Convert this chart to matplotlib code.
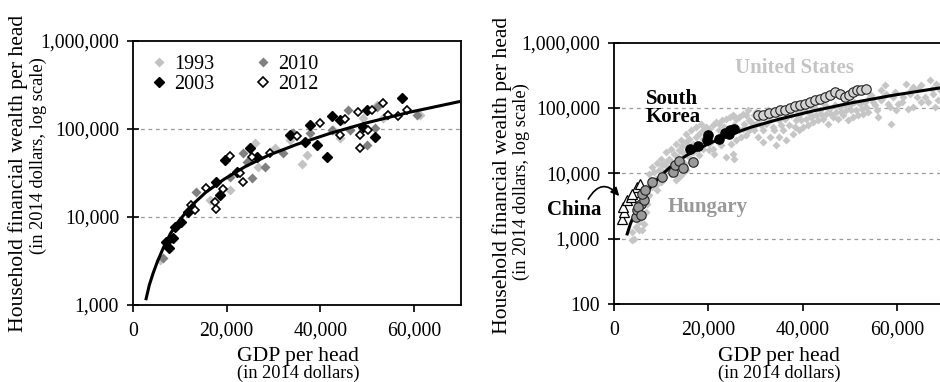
import matplotlib
matplotlib.use("Agg")
import matplotlib.pyplot as plt
from matplotlib.ticker import FixedLocator, FuncFormatter, NullLocator

plt.rcParams['font.family'] = ['Liberation Serif', 'DejaVu Serif']

# ---------------- data ----------------
# fitted trend line
fit_gdp = [2800, 3500, 4300, 5200, 6500, 8000, 10000, 12500, 15500, 19500,
           24000, 29000, 35000, 42000, 50000, 59000, 69500]
fit_wealth = [1180, 1700, 2300, 3100, 4500, 6500, 9300, 13500, 19000, 27000,
              37500, 50500, 67000, 89000, 118000, 155000, 204000]

# left panel: countries in four years
gdp_1993 = [5700, 26000, 30280, 26700, 20660, 35980, 37050, 42740, 44880, 49150,
            52010, 53430, 61270, 16390, 44170, 33500]
wealth_1993 = [3240, 68800, 60400, 37400, 20300, 39500, 50700, 97600, 126000, 132000,
               187000, 132000, 144000, 15600, 78000, 75000]

gdp_2003 = [7700, 7130, 8550, 8900, 10340, 11750, 17800, 18500, 19600, 24900,
            26400, 22100, 33500, 37760, 39200, 36700, 41300, 42400, 44170, 49900,
            51650, 49150, 57360]
wealth_2003 = [4400, 5240, 5730, 7760, 8850, 11500, 25200, 17800, 44400, 60400,
               48400, 32700, 85800, 111000, 65800, 71800, 48400, 140600, 126000, 164000,
               81600, 106000, 223000]

gdp_2010 = [6410, 13550, 23500, 24230, 25300, 28150, 32060, 34200, 37760, 42400,
            45950, 52010, 49880, 51650, 60560, 54150, 46310, 20660]
wealth_2010 = [3390, 19400, 52700, 42500, 27500, 37400, 52700, 89700, 89700, 97600,
               164000, 178000, 65800, 102000, 144000, 144000, 97600, 28700]

gdp_2012 = [13180, 12470, 15680, 17460, 17670, 19230, 20660, 22800, 23500, 25300,
            29210, 34900, 39900, 45240, 48080, 50940, 53420, 44170, 48440, 50220,
            48440, 54490, 56630, 58420]
wealth_2012 = [12000, 13700, 21200, 14900, 12200, 20600, 49300, 31400, 25200, 48400,
               52700, 83200, 118000, 129000, 157000, 164000, 199000, 85800, 85800, 97600,
               60400, 144000, 140600, 164000]

# right panel: all countries, all years
gdp_all = [4250, 3900, 4600, 5300, 4750, 6000, 6700, 5700, 7100, 6400,
           7400, 8150, 7100, 7800, 8860, 8500, 9570, 9900, 9200, 10600,
           10280, 11000, 11700, 12100, 13100, 13800, 14500, 15200, 12800, 13800,
           14500, 15200, 16000, 16700, 17400, 16000, 17000, 18100, 17400, 18800,
           14800, 13500, 18100, 18800, 19500, 20200, 20900, 21600, 22300, 23000,
           23800, 24500, 25200, 25900, 26600, 27300, 28000, 20200, 20900, 21600,
           22700, 23800, 25200, 24800, 25900, 27000, 28000, 28700, 27300, 29400,
           23400, 22300, 26200, 29100, 30100, 30800, 31600, 32300, 33000, 33700,
           34400, 35100, 35800, 36500, 37200, 37900, 38600, 39300, 40100, 40800,
           41500, 42200, 42900, 43600, 44300, 45000, 45700, 46400, 47100, 47900,
           48600, 49300, 50000, 50700, 51400, 52100, 52800, 53500, 39300, 36500,
           33700, 30100, 54900, 55700, 56700, 57400, 58100, 58800, 59200, 59900,
           61000, 62000, 62700, 63500, 64500, 65200, 66000, 67000, 67700, 68100,
           68800, 69100, 57100, 54200, 63500, 28400, 29800, 32600, 25500, 31600,
           35100,
           7400, 8150, 9200, 9900, 11000, 12100, 13100, 14200, 15200, 16300,
           17400, 18400, 19500, 20200, 21300, 22300, 23400, 24500, 25500, 26600,
           27600, 28700, 29800, 30500, 31200, 31900, 33000, 34000, 34700, 35500,
           36200, 37600, 38300, 39000, 39700, 40400, 41100, 41800, 42500, 43200,
           44000, 44700, 45400, 46100, 46800, 47500, 48200, 48900, 49600, 50300,
           51000, 51800, 52500, 53200, 53900, 54600, 55300, 56000, 56700, 57800,
           58500, 59600, 60300, 61300, 62400, 63100, 64200, 65200, 66600, 67400,
           68400, 8860, 10300, 11300, 12400, 13500, 14500, 15600, 16700, 17700,
           18800, 13100, 5300, 6400, 6000, 3900]
wealth_all = [1000, 1270, 1520, 1800, 2290, 2150, 2560, 3060, 3440, 4100,
              4600, 6200, 6200, 7800, 8300, 10500, 11100, 7400, 5500, 8800,
              13300, 14900, 16800, 9900, 11100, 8800, 9900, 11100, 20000, 22400,
              26500, 30000, 33900, 28400, 35900, 17700, 15800, 18800, 22400, 23700,
              14100, 14900, 40300, 45300, 50900, 48000, 53900, 60700, 57300, 64400,
              68300, 72400, 76700, 68300, 72400, 81400, 76700, 28400, 23700, 31900,
              26800, 17700, 19900, 28400, 31900, 35900, 38000, 45300, 48000, 50900,
              40300, 35900, 48000, 60700, 57300, 68300, 45300, 57300, 35900, 50900,
              26800, 64400, 45300, 72400, 53900, 40300, 64400, 76700, 50900, 68300,
              81400, 60700, 76700, 91600, 68300, 81400, 97000, 72400, 86300, 103000,
              76700, 91600, 109000, 72400, 91600, 115800, 81400, 103000, 45300, 31900,
              81400, 86300, 122000, 91600, 185000, 220000, 115800, 57300, 146000, 91600,
              122000, 234000, 164500, 103000, 195000, 122000, 146000, 263000, 164500, 103000,
              130000, 185000, 146000, 146000, 208000, 91600, 76700, 91600, 16800, 30000,
              35900,
              9900, 12500, 14100, 16800, 21000, 23700, 28400, 31900, 40300, 45300,
              50900, 57300, 35900, 22400, 19900, 45300, 50900, 45300, 53900, 45300,
              57300, 64400, 45300, 35900, 53900, 72400, 64400, 45300, 76700, 53900,
              68300, 76700, 50900, 86300, 64400, 91600, 53900, 72400, 103000, 64400,
              81400, 109000, 57300, 81400, 109000, 68300, 86300, 115800, 64400, 91600,
              122000, 76700, 97000, 122000, 86300, 155000, 109000, 72400, 130000, 164500,
              103000, 175000, 115800, 146000, 97000, 185000, 146000, 220000, 122000, 195000,
              234000, 6600, 10500, 12500, 14100, 17700, 21000, 23700, 21000, 28400,
              33900, 7800, 1350, 1700, 1350, 950]

# China
gdp_china = [1770, 2130, 1920, 2840, 3690, 4470, 4960, 5530, 3900]
wealth_china = [2030, 2570, 3060, 3870, 4360, 5190, 6170, 6930, 4900]

# Hungary
gdp_hungary = [4750, 4960, 5680, 6380, 6030, 6600, 8150, 10280, 12550, 12980,
               13830, 14540, 16810, 5170, 5680]
wealth_hungary = [2150, 2720, 3440, 3870, 4900, 5500, 7360, 8780, 10480, 13300,
                  15460, 12200, 14830, 3060, 2280]

# South Korea
gdp_korea = [16100, 17730, 19640, 19860, 22200, 23620, 24620, 25540, 24320]
wealth_korea = [23800, 25800, 31900, 38000, 33900, 41200, 45300, 47500, 40400]

# United States
gdp_us = [30500, 31560, 32980, 34050, 35110, 36180, 37240, 38300, 39370, 40430,
          41500, 42560, 43620, 44690, 45750, 46820, 48030, 48940, 49860, 50710,
          51560, 52490, 53350]
wealth_us = [76800, 76800, 83300, 86300, 91600, 93800, 100700, 105000, 109000, 113000,
             123000, 130000, 138000, 146000, 155000, 174000, 161000, 146000, 155000, 174000,
             185000, 190000, 196000]

left_yticks = [1000, 10000, 100000, 1000000]
right_yticks = [100, 1000, 10000, 100000, 1000000]
xticks = [0, 20000, 40000, 60000]

# ---------------- figure ----------------
W, H = 940, 382
fig = plt.figure(figsize=(W / 100, H / 100), dpi=100)

def box(l, t, r, b):
    return [l / W, 1 - b / H, (r - l) / W, (b - t) / H]

axL = fig.add_axes(box(133, 41, 461, 305))
axR = fig.add_axes(box(614, 42.5, 940, 304))

fmt = FuncFormatter(lambda v, p: f"{int(round(v)):,}")
tick_fs = 14.2

for ax, yt, ylim, xmax in [(axL, left_yticks, (1000, 1000000), 70000),
                           (axR, right_yticks, (100, 1000000), 69150)]:
    ax.set_yscale('log')
    ax.set_ylim(*ylim)
    ax.set_xlim(0, xmax)
    ax.yaxis.set_major_locator(FixedLocator(yt))
    ax.yaxis.set_minor_locator(NullLocator())
    ax.yaxis.set_major_formatter(fmt)
    ax.xaxis.set_major_locator(FixedLocator(xticks))
    ax.xaxis.set_major_formatter(fmt)
    ax.tick_params(axis='y', direction='inout', length=8, width=1.2, pad=6,
                   labelsize=tick_fs)
    ax.tick_params(axis='x', direction='out', length=5, width=1.2, pad=7,
                   labelsize=tick_fs)
    for s in ax.spines.values():
        s.set_linewidth(1.3)
    for y in yt[1:-1]:
        ax.axhline(y, color='#9a9a9a', lw=0.9, ls=(0, (3, 3)), zorder=0.5)

axR.spines['right'].set_visible(False)

# ---- left panel ----
ms = 4.6
axL.plot(gdp_1993, wealth_1993, 'D', ms=ms, color='#c3c3c3', mec='none', label='1993', zorder=2)
axL.plot(gdp_2010, wealth_2010, 'D', ms=ms, color='#808080', mec='none', label='2010', zorder=2)
axL.plot(gdp_2003, wealth_2003, 'D', ms=ms, color='black', mec='black', label='2003', zorder=3)
axL.plot(gdp_2012, wealth_2012, 'D', ms=ms - 0.4, mfc='white', mec='black', mew=1.2,
         ls='none', label='2012', zorder=3)
axL.plot(fit_gdp, fit_wealth, color='black', lw=2.2, zorder=4)

h, l = axL.get_legend_handles_labels()
order = [l.index('1993'), l.index('2003'), l.index('2010'), l.index('2012')]
axL.legend([h[i] for i in order], [l[i] for i in order], ncol=2, loc='upper left',
           bbox_to_anchor=(0.0, 1.0), frameon=False, fontsize=14.5,
           handletextpad=0.15, columnspacing=1.8, labelspacing=0.05,
           handlelength=1.2, markerscale=1.15, borderaxespad=0.3)

# ---- right panel ----
axR.plot(gdp_all, wealth_all, 'D', ms=4.1, color='#c6c6c6', mec='none', ls='none', zorder=1)
axR.plot(fit_gdp, fit_wealth, color='black', lw=2.2, zorder=3)
axR.plot(gdp_china, wealth_china, '^', ms=6.5, mfc='white', mec='black', mew=0.9,
         ls='none', zorder=4)
axR.plot(gdp_hungary, wealth_hungary, 'o', ms=6.8, mfc='#9a9a9a', mec='#222222', mew=0.8,
         ls='none', zorder=4)
axR.plot(gdp_korea, wealth_korea, 'o', ms=6.8, mfc='black', mec='black', mew=0.8,
         ls='none', zorder=4)
axR.plot(gdp_us, wealth_us, 'o', ms=6.8, mfc='#d2d2d2', mec='#222222', mew=0.8,
         ls='none', zorder=4)

ann_fs = 15
axR.text(38300, 401000, 'United States', color='#c4c4c4', fontsize=ann_fs,
         fontweight='bold', ha='center', va='center')
axR.text(6800, 100000, 'South\nKorea', color='black', fontsize=ann_fs,
         fontweight='bold', ha='left', va='center', linespacing=0.9)
axR.text(11300, 3030, 'Hungary', color='#999999', fontsize=ann_fs,
         fontweight='bold', ha='left', va='center')
axR.text(-2600, 2720, 'China', color='black', fontsize=ann_fs,
         fontweight='bold', ha='right', va='center', clip_on=False)
axR.annotate('', xy=(1490, 4160), xytext=(-5750, 3700),
             arrowprops=dict(arrowstyle='-|>', color='black', lw=1.2,
                             connectionstyle='arc3,rad=-0.75', mutation_scale=12),
             annotation_clip=False)

# ---- axis labels ----
lab_fs = 15.6
sub_fs = 13.2
for cx, cy1, cx2, cy2 in [(18, 173, 38, 156), (502, 175, 521, 182)]:
    fig.text(cx / W, 1 - cy1 / H, 'Household financial wealth per head', rotation=90,
             ha='center', va='center', fontsize=lab_fs)
    fig.text(cx2 / W, 1 - cy2 / H, '(in 2014 dollars, log scale)', rotation=90,
             ha='center', va='center', fontsize=sub_fs)

for cx in [298, 779]:
    fig.text(cx / W, 1 - 356 / H, 'GDP per head', ha='center', va='center', fontsize=lab_fs)
    fig.text(cx / W, 1 - 373 / H, '(in 2014 dollars)', ha='center', va='center', fontsize=sub_fs)

fig.savefig('out.png', dpi=100)
